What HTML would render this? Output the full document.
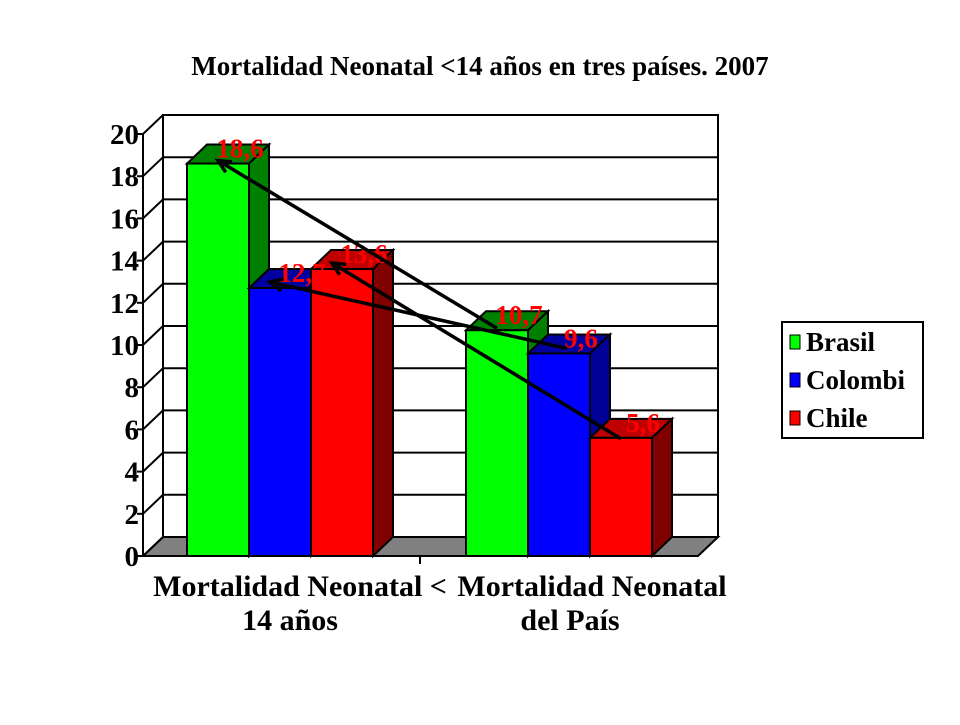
<!DOCTYPE html>
<html><head><meta charset="utf-8"><style>
body{margin:0;background:#fff;width:960px;height:720px;overflow:hidden}
svg text{font-family:"Liberation Serif",serif;font-weight:bold}
</style></head><body>
<svg width="960" height="720">
<text x="480" y="75" text-anchor="middle" font-size="27">Mortalidad Neonatal &lt;14 años en tres países. 2007</text>
<g id="plot"></g>
<g>
<rect x="782" y="322" width="141" height="116" fill="#fff" stroke="#000" stroke-width="2"/>
<rect x="790" y="335" width="10" height="14" fill="#00ff00" stroke="#000"/>
<text x="806" y="351" font-size="27">Brasil</text>
<rect x="790" y="373" width="10" height="14" fill="#0000ff" stroke="#000"/>
<text x="806" y="389" font-size="27">Colombi</text>
<rect x="790" y="411" width="10" height="14" fill="#ff0000" stroke="#000"/>
<text x="806" y="427" font-size="27">Chile</text>
</g>
<text x="300" y="596" text-anchor="middle" font-size="30">Mortalidad Neonatal &lt;</text>
<text x="290" y="630" text-anchor="middle" font-size="30">14 años</text>
<text x="592" y="596" text-anchor="middle" font-size="30" fill="#000" stroke="#fff" stroke-width="0">Mortalidad Neonatal</text>
<text x="570" y="630" text-anchor="middle" font-size="30">del País</text>
</svg>
<script>
const categories=["Mortalidad Neonatal <14 años","Mortalidad Neonatal del País"];
const seriesNames=["Brasil","Colombia","Chile"];
const brasil=[18.6,10.7];
const colombia=[12.7,9.6];
const chile=[13.6,5.6];
const labels=[["18,6","10,7"],["12,7","9,6"],["13,6","5,6"]];
const ticks=[0,2,4,6,8,10,12,14,16,18,20];

const NS="http://www.w3.org/2000/svg";
const g=document.getElementById('plot');
const y0=556,ppu=21.1,DX=20,DY=-19,axX=143,plotR=698;
function y(v){return y0-v*ppu;}
function el(t,a,p){const e=document.createElementNS(NS,t);for(const k in a)e.setAttribute(k,a[k]);(p||g).appendChild(e);return e;}
// back wall
const wall=el('rect',{x:axX+DX,y:y(20)+DY,width:plotR-axX,height:20*ppu,fill:'#fff',stroke:'#000','stroke-width':2});


// floor
const fl=el('polygon',{points:`${axX},${y0} ${plotR},${y0} ${plotR+DX},${y0+DY} ${axX+DX},${y0+DY}`,fill:'#808080',stroke:'#000','stroke-width':2});


ticks.forEach(t=>{
 const gl=el('polyline',{points:`${axX},${y(t)} ${axX+DX},${y(t)+DY} ${plotR+DX},${y(t)+DY}`,fill:'none',stroke:'#000','stroke-width':2});
 
 
 el('line',{x1:axX-6,y1:y(t),x2:axX,y2:y(t),stroke:'#000','stroke-width':2});
 const tx=el('text',{x:axX-4,y:y(t)+10,'text-anchor':'end','font-size':29});
 tx.textContent=t;
 
 
});
el('line',{x1:axX,y1:y(0),x2:axX,y2:y(20),stroke:'#000','stroke-width':2});
el('line',{x1:axX,y1:y0,x2:plotR,y2:y0,stroke:'#000','stroke-width':2});
el('line',{x1:420,y1:y0,x2:420,y2:y0+8,stroke:'#000','stroke-width':2});
const series=[brasil,colombia,chile];
const cols=[['#00ff00','#008000','#008000'],['#0000ff','#000099','#0000a0'],['#ff0000','#800000','#c00000']];
const groupX=[187,466],bw=62;
const tops=[];
categories.forEach((c,ci)=>{
 series.forEach((s,si)=>{
  const x=groupX[ci]+si*bw,yt=y(s[ci]);
  const gg=el('g',{});
  
  
  el('polygon',{points:`${x},${yt} ${x+DX},${yt+DY} ${x+bw+DX},${yt+DY} ${x+bw},${yt}`,fill:cols[si][2],stroke:'#000','stroke-width':2},gg);
  el('polygon',{points:`${x+bw},${yt} ${x+bw+DX},${yt+DY} ${x+bw+DX},${y0+DY} ${x+bw},${y0}`,fill:cols[si][1],stroke:'#000','stroke-width':2},gg);
  el('rect',{x:x,y:yt,width:bw,height:y0-yt,fill:cols[si][0],stroke:'#000','stroke-width':2},gg);
  tops.push([x,yt,si,ci]);
 });
});
tops.forEach(([x,yt,si,ci])=>{
 const t=el('text',{x:x+bw/2+DX+2,y:yt+DY+13,'text-anchor':'middle','font-size':27,fill:'#ff0000'});
 t.textContent=labels[si][ci];
 
 
});
// arrows from group2 to group1 tops
series.forEach((s,si)=>{
 const x1=groupX[1]+si*bw+bw/2, y1=y(s[1])+ (si==0?-2:(si==1?-5:-7)) +(si==2?8:0);
 const x2=groupX[0]+si*bw+bw/2-10+(si==0?10:0), y2=y(s[0])-6+(si==0?3:0);
 const ln=el('line',{x1:x1-(si==1?-8:0),y1:y1,x2:x2,y2:y2,stroke:'#000','stroke-width':3.5});
 
 
 const a=Math.atan2(y1-y2,x1-x2),L=14;
 el('polyline',{points:`${x2+L*Math.cos(a+0.45)},${y2+L*Math.sin(a+0.45)} ${x2},${y2} ${x2+L*Math.cos(a-0.45)},${y2+L*Math.sin(a-0.45)}`,fill:'none',stroke:'#000','stroke-width':3.5});
});
</script>
</body></html>
